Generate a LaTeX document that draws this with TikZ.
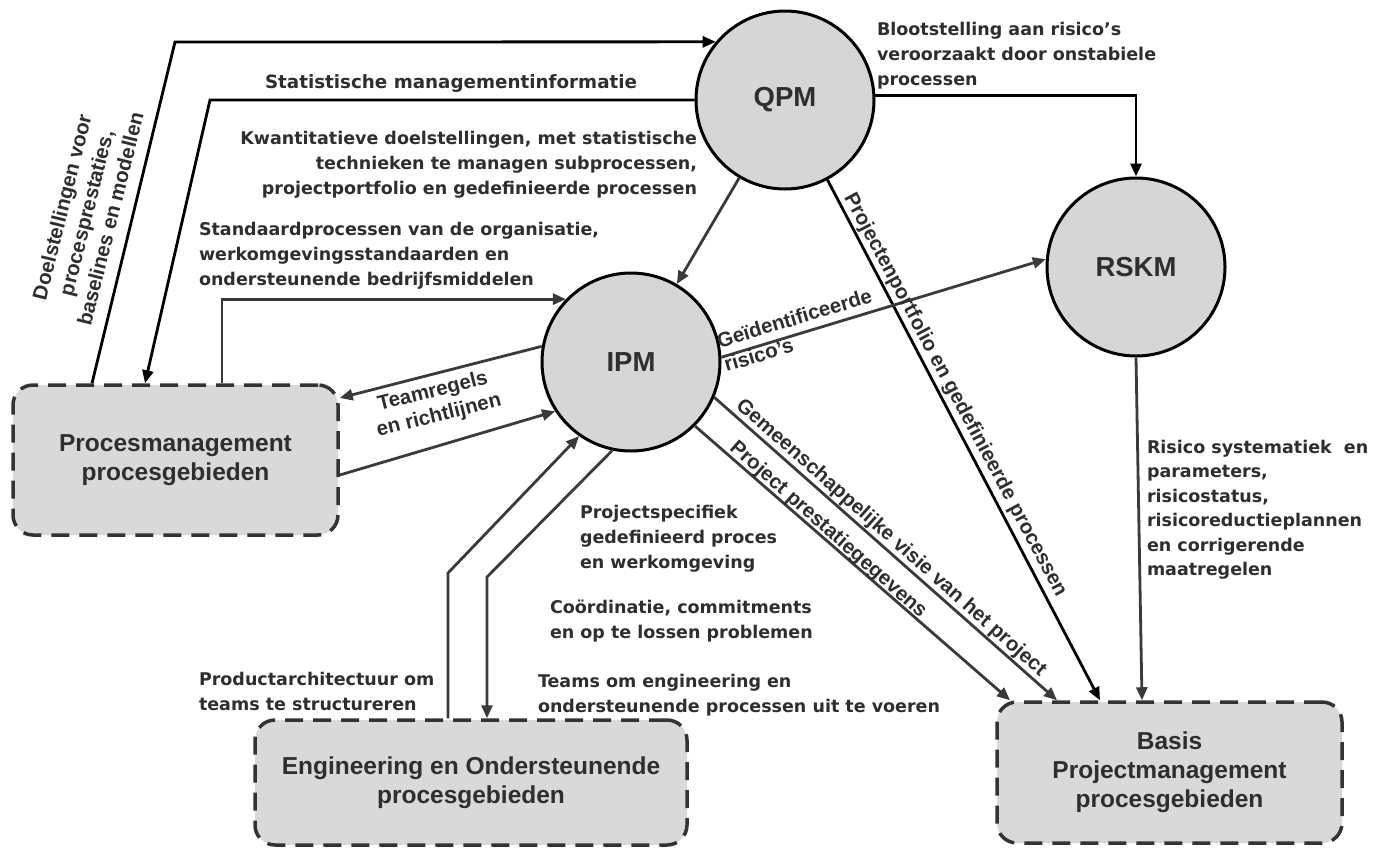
\documentclass[tikz,border=0pt]{standalone}
\usepackage{fontspec}
\setmainfont{DejaVu Sans}
\newfontfamily\arialb{Liberation Sans}
\usetikzlibrary{arrows.meta}
\definecolor{txt}{HTML}{2E2E2E}
\definecolor{circfill}{HTML}{D6D6D6}
\definecolor{boxfill}{HTML}{D9D9D9}
\definecolor{boxline}{HTML}{333333}
\definecolor{flowgray}{HTML}{3A3A3A}
\begin{document}
\begin{tikzpicture}[x=1pt,y=-1pt,
  every node/.style={inner sep=0pt, outer sep=0pt},
  bubble/.style={circle, draw=black, line width=3pt, fill=circfill, minimum size=178pt, outer sep=1.5pt,
    font=\arialb\bfseries\fontsize{27.5}{30}\selectfont, text=txt},
  areabox/.style={rectangle, rounded corners=20pt, draw=boxline, line width=3.5pt, dash pattern=on 18pt off 10pt,
    fill=boxfill, outer sep=1.75pt, font=\arialb\bfseries\fontsize{24.5}{29}\selectfont, text=txt, align=center},
  lbl/.style={font=\bfseries\fontsize{17.5}{25}\selectfont, text=txt, align=left},
  rlbl/.style={font=\arialb\bfseries\fontsize{20.5}{25}\selectfont, text=txt, align=center},
  flow/.style={line width=2.8pt, draw=flowgray, -{Triangle[length=13pt,width=11pt]}},
  flowk/.style={flow, draw=black},
]
\fill[white] (0,0) rectangle (1379,847);
\useasboundingbox (0,0) rectangle (1379,847);

% main nodes
\node[bubble] (qpm) at (785,100) {QPM};
\node[bubble] (ipm) at (631,362) {IPM};
\node[bubble] (rskm) at (1136,267) {RSKM};
\node[areabox, minimum width=325pt, minimum height=150pt] (proc) at (175.5,460) {Procesmanagement\\procesgebieden};
\node[areabox, minimum width=432pt, minimum height=125pt] (eng) at (471,782.5) {Engineering en Ondersteunende\\procesgebieden};
\node[areabox, minimum width=345pt, minimum height=141pt] (basis) at (1169.5,772.5) {Basis\\Projectmanagement\\procesgebieden};

% corner points
\coordinate (c1) at (175,42);
\coordinate (c2) at (210,100);
\coordinate (c10) at (448,573);
\coordinate (c11) at (487,577);

% connectors
\draw[flowk] ([xshift=-83.5pt]proc.north) -- (c1) -- (qpm.140);
\draw[flowk] (qpm.west) -- (c2) -- ([xshift=-30.5pt]proc.north);
\draw[flow] ([xshift=46.5pt]proc.north) |- (ipm.136);
\draw[flow] (qpm) -- (ipm);
\draw[flowk] (qpm.3) -| (rskm.north);
\draw[flowk] (qpm.298) -- ([xshift=-69.5pt]basis.north);
\draw[flow] (ipm.3) -- (rskm.175);
\draw[flow] (ipm.170) -- ([yshift=62pt]proc.east);
\draw[flow] ([yshift=-15pt]proc.east) -- (ipm.213);
\draw[flow] ([xshift=-23pt]eng.north) -- (c10) -- (ipm.235);
\draw[flow] (ipm.258) -- (c11) -- ([xshift=16pt]eng.north);
\draw[flow] (ipm.315) -- ([xshift=-159.5pt]basis.north);
\draw[flow] (ipm.337) -- ([xshift=-112.5pt]basis.north);
\draw[flow] (rskm.south) -- ([xshift=-27.5pt]basis.north);

% horizontal labels
\node[lbl, anchor=north west, font=\bfseries\fontsize{18.3}{25}\selectfont] (lstat) at (265,75) {Statistische managementinformatie};
\node[lbl, anchor=north east, align=right] (lkwan) at (697,131) {Kwantitatieve doelstellingen, met statistische\\technieken te managen subprocessen,\\projectportfolio en gedefinieerde processen};
\node[lbl, anchor=north west] (lstd) at (199,222) {Standaardprocessen van de organisatie,\\werkomgevingsstandaarden en\\ondersteunende bedrijfsmiddelen};
\node[lbl, anchor=north west] (lbloot) at (877,22) {Blootstelling aan risico’s\\veroorzaakt door onstabiele\\processen};
\node[lbl, anchor=north west] (lproj) at (580,505) {Projectspecifiek\\gedefinieerd proces\\en werkomgeving};
\node[lbl, anchor=north west] (lcoord) at (550,600) {Coördinatie, commitments\\en op te lossen problemen};
\node[lbl, anchor=north west] (lteams) at (538,674) {Teams om engineering en\\ondersteunende processen uit te voeren};
\node[lbl, anchor=north west] (lprod) at (199,672) {Productarchitectuur om\\teams te structureren};
\node[lbl, anchor=north west, font=\bfseries\fontsize{17.5}{24.5}\selectfont] (lrisk) at (1147,440) {Risico systematiek\ \ en\\parameters,\\risicostatus,\\risicoreductieplannen\\en corrigerende\\maatregelen};

% rotated labels
\node[rlbl, rotate=76] (ldoel) at (86,213) {Doelstellingen voor\\procesprestaties,\\baselines en modellen};
\node[rlbl, rotate=-62] (lportf) at (955,395) {Projectenportfolio en gedefinieerde processen};
\node[rlbl, rotate=-41.5] (lgem) at (891,538) {Gemeenschappelijke visie van het project};
\node[rlbl, rotate=-41.5] (lprest) at (828,530) {Project prestatiegegevens};
\node[rlbl, rotate=16.7, anchor=west, align=left, font=\arialb\bfseries\fontsize{20.5}{25}\selectfont] (lgeid) at (721,353) {Geïdentificeerde\\risico’s};
\node[rlbl, rotate=14] (lteam) at (436,404) {Teamregels\\en richtlijnen};
\end{tikzpicture}
\end{document}
